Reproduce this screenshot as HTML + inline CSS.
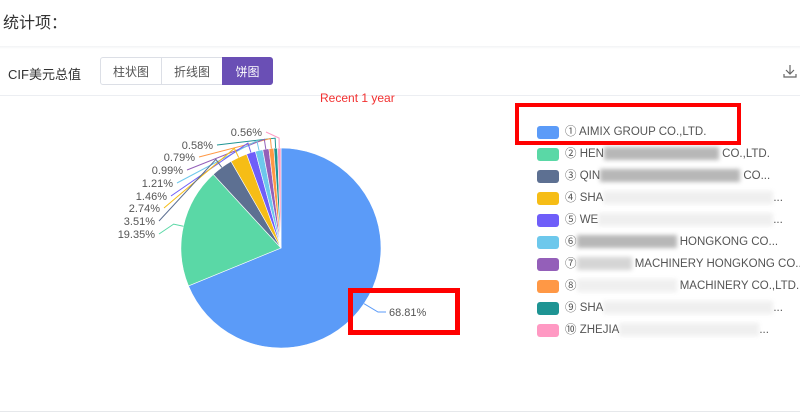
<!DOCTYPE html>
<html><head><meta charset="utf-8"><style>
body{margin:0;width:800px;height:416px;background:#fff;font-family:"Liberation Sans","Noto Sans CJK SC",sans-serif;position:relative;overflow:hidden}
.a{position:absolute}
.btn{position:absolute;top:57px;height:28px;line-height:28px;width:62px;text-align:center;font-size:12px;color:#555;border:1px solid #dcdfe6;box-sizing:border-box}
.lg{position:absolute;left:537px;width:22px;height:13px;border-radius:3px}
.lt{position:absolute;left:565px;font-size:11.5px;color:#555;white-space:nowrap;line-height:14px}
.bl{display:inline-block;height:13px;background:#999;filter:blur(2px);vertical-align:middle;opacity:.7}
</style></head><body>
<div class="a" style="left:3px;top:9px;font-size:16px;color:#333">统计项：</div>
<div class="a" style="left:0;top:46px;width:800px;height:3px;background:linear-gradient(#f2f3f5,#fff)"></div>
<div class="a" style="left:8px;top:64px;font-size:13px;color:#333">CIF美元总值</div>
<div class="btn" style="left:100px;border-radius:3px 0 0 3px">柱状图</div>
<div class="btn" style="left:161px">折线图</div>
<div class="btn" style="left:222px;width:51px;background:#6a4fb5;border-color:#6a4fb5;color:#fff;border-radius:0 3px 3px 0">饼图</div>
<div class="a" style="left:0;top:95px;width:800px;height:1px;background:#eceef2"></div>
<div class="a" style="left:0;top:411px;width:800px;height:1px;background:#e6e8eb"></div>
<div class="a" style="left:320px;top:91px;font-size:12px;color:#f23030">Recent 1 year</div>
<svg class="a" style="left:783px;top:64px" width="14" height="14"><path d="M7 1v9M3 6l4 4 4-4M1 10v3h12v-3" stroke="#666" fill="none" stroke-width="1.2"/></svg>
<svg id="p" class="a" style="left:0;top:0" width="800" height="416"></svg>
<div class="lg" style="top:126px;background:#5b9bf8"></div><div class="lt" style="top:125px">① AIMIX GROUP CO.,LTD.</div>
<div class="lg" style="top:148px;background:#5ad8a6"></div><div class="lt" style="top:147px">② HEN<span class="bl" style="width:115px"></span> CO.,LTD.</div>
<div class="lg" style="top:170px;background:#5d7092"></div><div class="lt" style="top:169px">③ QIN<span class="bl" style="width:140px"></span> CO...</div>
<div class="lg" style="top:192px;background:#f6bd16"></div><div class="lt" style="top:191px">④ SHA<span class="bl" style="width:170px;opacity:.15"></span>...</div>
<div class="lg" style="top:214px;background:#6f5ef9"></div><div class="lt" style="top:213px">⑤ WE<span class="bl" style="width:175px;opacity:.15"></span>...</div>
<div class="lg" style="top:236px;background:#6dc8ec"></div><div class="lt" style="top:235px">⑥<span class="bl" style="width:100px"></span> HONGKONG CO...</div>
<div class="lg" style="top:258px;background:#945fb9"></div><div class="lt" style="top:257px">⑦<span class="bl" style="width:55px;opacity:.4"></span> MACHINERY HONGKONG CO...</div>
<div class="lg" style="top:280px;background:#ff9845"></div><div class="lt" style="top:279px">⑧<span class="bl" style="width:100px;opacity:.15"></span> MACHINERY CO.,LTD.</div>
<div class="lg" style="top:302px;background:#1e9493"></div><div class="lt" style="top:301px">⑨ SHA<span class="bl" style="width:170px;opacity:.15"></span>...</div>
<div class="lg" style="top:324px;background:#ff99c3"></div><div class="lt" style="top:323px">⑩ ZHEJIA<span class="bl" style="width:140px;opacity:.15"></span>...</div>
<div class="a" style="left:515px;top:103px;width:226px;height:42px;border:4px solid #f00;box-sizing:border-box"></div>
<div class="a" style="left:348px;top:288px;width:112px;height:47px;border:5px solid #f00;box-sizing:border-box"></div>
<script>
var v=[68.81,19.35,3.51,2.74,1.46,1.21,0.99,0.79,0.58,0.56];
var c=["#5b9bf8","#5ad8a6","#5d7092","#f6bd16","#6f5ef9","#6dc8ec","#945fb9","#ff9845","#1e9493","#ff99c3"];
var s=v.reduce((a,b)=>a+b,0),cx=281,cy=248,r=100,a=0,h="";
function pt(t,R){return [cx+R*Math.sin(t),cy-R*Math.cos(t)];}
for(var i=0;i<v.length;i++){var b=a+v[i]/s*2*Math.PI,p1=pt(a,r),p2=pt(b,r);
h+='<path d="M'+cx+' '+cy+'L'+p1+'A'+r+' '+r+' 0 '+((b-a)>Math.PI?1:0)+' 1 '+p2+'Z" fill="'+c[i]+'" stroke="#fff" stroke-width="0.6"/>';a=b;}
var L=[["0.56%",262,136,9],["0.58%",213,149,8],["0.79%",195,161,7],["0.99%",183,174,6],["1.21%",173,187,5],["1.46%",167,200,4],["2.74%",160,212,3],["3.51%",155,225,2],["19.35%",155,238,1]];
a=0;var mids=[];for(i=0;i<v.length;i++){var b2=a+v[i]/s*2*Math.PI;mids.push((a+b2)/2);a=b2;}
L.forEach(function(l){var m=mids[l[3]],e=pt(m,r),o=pt(m,r+10);
h+='<polyline points="'+e+' '+o+' '+(l[1]+4)+','+(l[2]-4)+'" fill="none" stroke="'+c[l[3]]+'" stroke-width="1"/>';
h+='<text x="'+l[1]+'" y="'+l[2]+'" text-anchor="end" font-size="11" fill="#555" font-family="Liberation Sans">'+l[0]+'</text>';});
var e0=pt(mids[0],r);
h+='<polyline points="'+e0+' 378,312 386,312" fill="none" stroke="#5b9bf8"/>';
h+='<text x="389" y="316" font-size="11" fill="#555" font-family="Liberation Sans">68.81%</text>';
document.getElementById("p").innerHTML=h;
</script>
</body></html>
